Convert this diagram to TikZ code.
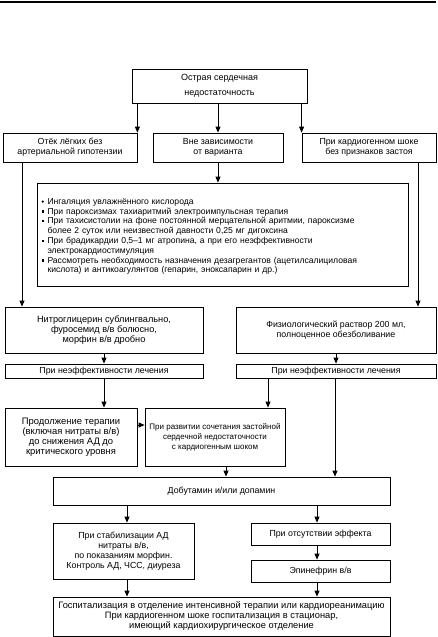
\documentclass[tikz,border=0pt]{standalone}
\usepackage{fontspec}
\setmainfont{Liberation Sans}
\usetikzlibrary{arrows.meta}
\newcommand\bsq{\makebox[6pt][l]{\rule[1.5pt]{2.2pt}{2.2pt}}}
\newcommand\bdot{\makebox[6pt][l]{\raisebox{1.4pt}{\tikz\fill (0,0) circle (1.2pt);}}}
\newcommand\bitem[2]{\par\hangindent=6pt\hangafter=1\noindent#1#2}
\begin{document}
\begin{tikzpicture}[x=1pt,y=-1pt,
  box/.style={draw,line width=0.8pt,fill=white,align=center,inner sep=1pt,
    font=\fontsize{8.8}{10}\selectfont},
  sz/.style 2 args={minimum width=#1pt,minimum height=#2pt},
  fs/.style={font=\fontsize{#1}{10}\selectfont},
  arr/.style={line width=0.8pt,-{Triangle[length=6pt,width=5pt]}}]
\useasboundingbox (0,0) rectangle (438,637);
\draw[line width=1.3pt] (0,2) -- (436,2);

\node[box,sz={175}{34},fs=9] (top) at (219.5,86) {Острая сердечная\\[5pt]недостаточность};
\node[box,sz={134}{29}] (b1) at (70,147.5) {Отёк лёгких без\\артериальной гипотензии};
\node[box,sz={130}{29}] (b2) at (218,147.5) {Вне зависимости\\от варианта};
\node[box,sz={134}{29}] (b3) at (369,147.5) {При кардиогенном шоке\\без признаков застоя};
\node[box,sz={371}{103},text width=362pt,align=left,font=\fontsize{8.6}{9.8}\selectfont] (bul) at (222.5,234.5) {%
\bitem{\bdot}{Ингаляция увлажнённого кислорода}
\bitem{\bsq}{При пароксизмах тахиаритмий электроимпульсная терапия}
\bitem{\bsq}{При тахисистолии на фоне постоянной мерцательной аритмии, пароксизме\newline более 2 суток или неизвестной давности 0,25 мг дигоксина}
\bitem{\bsq}{При брадикардии 0,5–1 мг атропина, а при его неэффективности\newline электрокардиостимуляция}
\bitem{\bsq}{Рассмотреть необходимость назначения дезагрегантов (ацетилсалициловая\newline кислота) и антикоагулянтов (гепарин, эноксапарин и др.)}\par};
\node[box,sz={198}{46},fs=9.2] (nitro) at (104,330) {Нитроглицерин сублингвально,\\фуросемид в/в болюсно,\\морфин в/в дробно};
\node[box,sz={200}{46}] (phys) at (336,330) {Физиологический раствор 200 мл,\\полноценное обезболивание};
\node[box,sz={198}{14}] (in1) at (104,371) {При неэффективности лечения};
\node[box,sz={200}{14}] (in2) at (336,371) {При неэффективности лечения};
\node[box,sz={132}{58},fs=9.4] (cont) at (71,437) {Продолжение терапии\\(включая нитраты в/в)\\до снижения АД до\\критического уровня};
\node[box,sz={140}{58},fs=8] (dev) at (215,437) {При развитии сочетания застойной\\сердечной недостаточности\\с кардиогенным шоком};
\node[box,sz={337}{28}] (dob) at (221.5,491) {Добутамин и/или допамин};
\node[box,sz={141}{56}] (stab) at (123.5,551) {При стабилизации АД\\нитраты в/в,\\по показаниям морфин.\\Контроль АД, ЧСС, диуреза};
\node[box,sz={139}{22}] (noeff) at (320.5,534) {При отсутствии эффекта};
\node[box,sz={139}{22}] (epi) at (320.5,571) {Эпинефрин в/в};
\node[box,sz={337}{39},fs=9.3] (hosp) at (221.5,616.5) {Госпитализация в отделение интенсивной терапии или кардиореанимацию\\При кардиогенном шоке госпитализация в стационар,\\имеющий кардиохирургическое отделение};

\coordinate (c1) at (22,162);
\coordinate (c3) at (418,162);
\coordinate (c5) at (137,425);
\coordinate (d1) at (268,378);
\coordinate (d2) at (335,378);
\coordinate (d3) at (226,466);
\coordinate (e1) at (127,505);
\coordinate (e2) at (317,505);

\draw[arr] (b1.north east |- top.south) -- (b1.north east);
\draw[arr] (b2.north |- top.south) -- (b2.north);
\draw[arr] (b3.north west |- top.south) -- (b3.north west);
\draw[arr] (b2.south) -- (b2.south |- bul.north);
\draw[arr] (c1) -- (c1 |- nitro.north);
\draw[arr] (c3) -- (c3 |- phys.north);
\draw[arr] (nitro.south) -- (in1.north);
\draw[arr] (phys.south) -- (in2.north);
\draw[arr] (in1.south) -- (in1.south |- cont.north);
\draw[arr] (c5) -- (c5 -| dev.west);
\draw[arr] (d1) -- (d1 |- dev.north);
\draw[arr] (d2) -- (d2 |- dob.north);
\draw[arr] (d3) -- (d3 |- dob.north);
\draw[arr] (e1) -- (e1 |- stab.north);
\draw[arr] (e2) -- (e2 |- noeff.north);
\draw[arr] (noeff.south -| e2) -- (e2 |- epi.north);
\draw[arr] (stab.south -| e1) -- (e1 |- hosp.north);
\draw[arr] (epi.south -| e2) -- (e2 |- hosp.north);
\end{tikzpicture}
\end{document}
